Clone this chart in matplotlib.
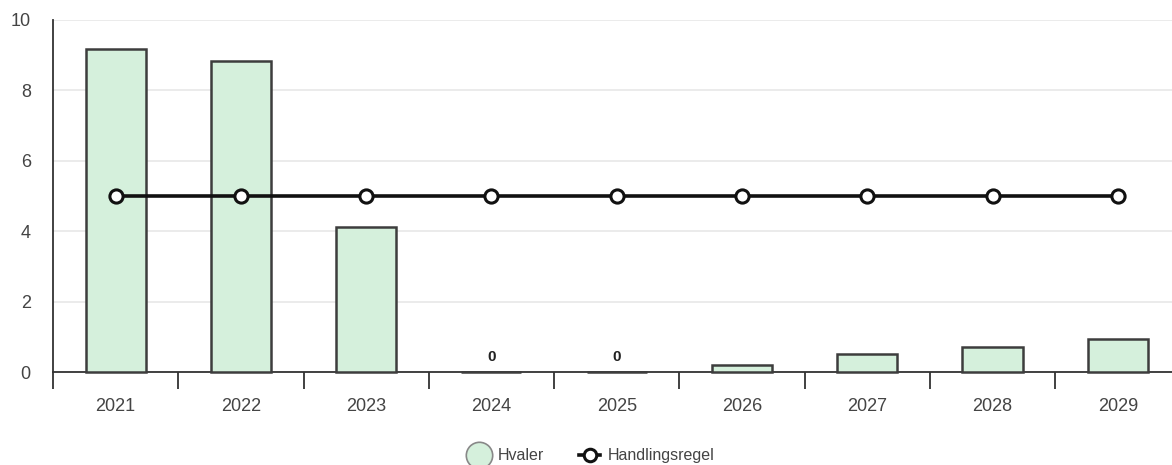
import numpy as np
import matplotlib.pyplot as plt
from matplotlib.lines import Line2D

plt.rcParams['font.family'] = ['Liberation Sans', 'DejaVu Sans']

years = ["2021", "2022", "2023", "2024", "2025", "2026", "2027", "2028", "2029"]
hvaler = [9.18, 8.84, 4.12, 0, 0, 0.2, 0.51, 0.71, 0.94]
handlingsregel = [5, 5, 5, 5, 5, 5, 5, 5, 5]
zero_labels = ["", "", "", "0", "0", "", "", "", ""]

fig = plt.figure(figsize=(11.72, 4.65), dpi=100)
ax = fig.add_axes([0.0452, 0.2, 0.962, 0.757])

x = np.arange(len(years))
bars = ax.bar(x, hvaler, width=0.48, color="#d5f0dc", edgecolor="#3d3d3d",
              linewidth=1.8, zorder=3)
for b in bars:
    b.set_clip_on(False)
ax.plot(x, handlingsregel, "-o", color="#111111", lw=2.6, ms=9.5,
        mfc="white", mec="#111111", mew=2.2, zorder=4)

for xi, v, lab in zip(x, hvaler, zero_labels):
    if lab:
        ax.text(xi, v + 0.22, lab, ha="center", va="bottom", fontsize=11,
                fontweight="bold", color="#222222")

ax.set_xlim(-0.5, len(years) - 0.5)
ax.set_ylim(0, 10)
ax.set_yticks([0, 2, 4, 6, 8, 10])
ax.yaxis.grid(True, color="#e8e8e8", lw=1.2, zorder=0)
ax.set_axisbelow(True)

# category boundary ticks
ax.set_xticks(np.arange(-0.5, len(years) - 0.4, 1))
ax.set_xticklabels([])
ax.set_xticks(x, minor=True)
ax.set_xticklabels(years, minor=True)
ax.tick_params(axis="x", which="major", length=12, width=1.3, color="#333333",
               direction="out")
ax.tick_params(axis="x", which="minor", length=0, pad=19, labelsize=13,
               labelcolor="#444444")
ax.tick_params(axis="y", length=0, pad=16, labelsize=13, labelcolor="#444444")

for s in ["top", "right"]:
    ax.spines[s].set_visible(False)
ax.spines["left"].set_color("#333333")
ax.spines["left"].set_linewidth(1.3)
ax.spines["bottom"].set_color("#333333")
ax.spines["bottom"].set_linewidth(1.3)

handles = [
    Line2D([], [], ls="none", marker="o", ms=19, mfc="#d5f0dc", mec="#888888",
           mew=1.2),
    Line2D([], [], color="#111111", lw=2.6, marker="o", ms=9, mfc="white",
           mec="#111111", mew=2.2),
]
fig.legend(handles, ["Hvaler", "Handlingsregel"], loc="lower center",
           bbox_to_anchor=(0.505, -0.027), ncol=2, frameon=False, fontsize=11.5,
           handlelength=1.3, columnspacing=2.2, handletextpad=0.5,
           labelcolor="#444444")

fig.savefig("out.png", dpi=100)
